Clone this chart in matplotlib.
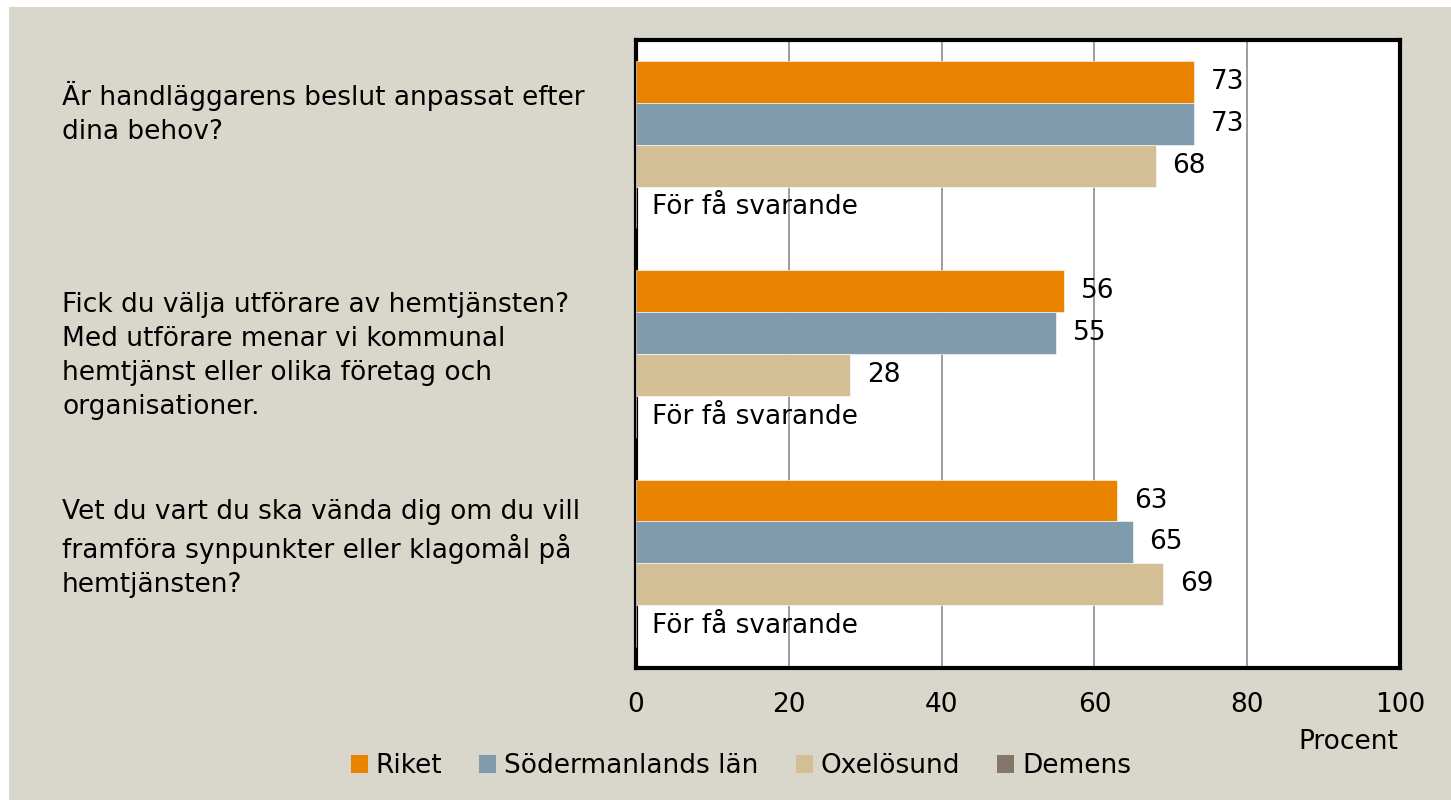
import numpy as np
import matplotlib.pyplot as plt
from matplotlib.patches import Rectangle
import matplotlib.transforms as mtransforms

questions = [
    "Är handläggarens beslut anpassat efter\ndina behov?\n\n",
    "Fick du välja utförare av hemtjänsten?\nMed utförare menar vi kommunal\nhemtjänst eller olika företag och\norganisationer.",
    "Vet du vart du ska vända dig om du vill\nframföra synpunkter eller klagomål på\nhemtjänsten?\n",
]
series = ["Riket", "Södermanlands län", "Oxelösund", "Demens"]
riket = [73, 56, 63]
sodermanland = [73, 55, 65]
oxelosund = [68, 28, 69]
demens = [None, None, None]   # för få svarande
colors = ["#E98300", "#7F9BAD", "#D3BE96", "#85766A"]

bg = "#D9D7CB"
fs = 19
plt.rcParams['font.family'] = ['DejaVu Sans']

fig = plt.figure(figsize=(14.51, 8.0), dpi=100, facecolor="white")
fig.patches.append(Rectangle((9 / 1451, 0), 1, 1 - 7 / 800, transform=fig.transFigure,
                             facecolor=bg, edgecolor="none", zorder=-10))

ax = fig.add_axes([636 / 1451, 1 - 668 / 800, (1400 - 636) / 1451, (668 - 40) / 800])
ax.set_facecolor("white")

y = np.arange(len(questions))
h = 0.2
all_vals = [riket, sodermanland, oxelosund, demens]
for k, (name, vals, c) in enumerate(zip(series, all_vals, colors)):
    pos = y - 0.3 + k * h
    widths = [v if v is not None else 0 for v in vals]
    ax.barh(pos, widths, height=h, color=c, label=name, zorder=3,
            edgecolor="white", linewidth=0.4)
    for p, v in zip(pos, vals):
        if v is None:
            ax.annotate("För få svarande", (0, p), xytext=(16, 0), textcoords="offset pixels",
                        va="center", ha="left", fontsize=fs, zorder=2)
        else:
            ax.annotate(str(v), (v, p), xytext=(17, 0), textcoords="offset pixels",
                        va="center", ha="left", fontsize=fs, zorder=4)

ax.set_xlim(0, 100)
ax.set_ylim(2.5, -0.5)
ax.set_xticks(range(0, 101, 20))
ax.tick_params(axis="x", length=0, pad=17, labelsize=fs)
ax.set_yticks([])
ax.xaxis.grid(True, color="#8C8C8C", linewidth=1.2, zorder=1)
ax.set_axisbelow(True)
for s in ax.spines.values():
    s.set_linewidth(3)
    s.set_color("black")

trans = mtransforms.blended_transform_factory(fig.transFigure, ax.transData)
for i, q in enumerate(questions):
    ax.text(62 / 1451, i + 0.01, q, transform=trans, ha="left", va="center",
            fontsize=fs, linespacing=1.4)

fig.text(1398 / 1451, 1 - 742 / 800, "Procent", ha="right", va="center", fontsize=fs)

leg = fig.legend(loc="center", bbox_to_anchor=(741 / 1451, 1 - 766 / 800), ncol=4, frameon=False,
                 fontsize=fs, handlelength=0.65, handleheight=0.7, handletextpad=0.3,
                 columnspacing=1.4, borderpad=0, borderaxespad=0)
for hdl in leg.legend_handles:
    hdl.set_edgecolor("none")

fig.savefig("out.png", dpi=100, facecolor="white")
